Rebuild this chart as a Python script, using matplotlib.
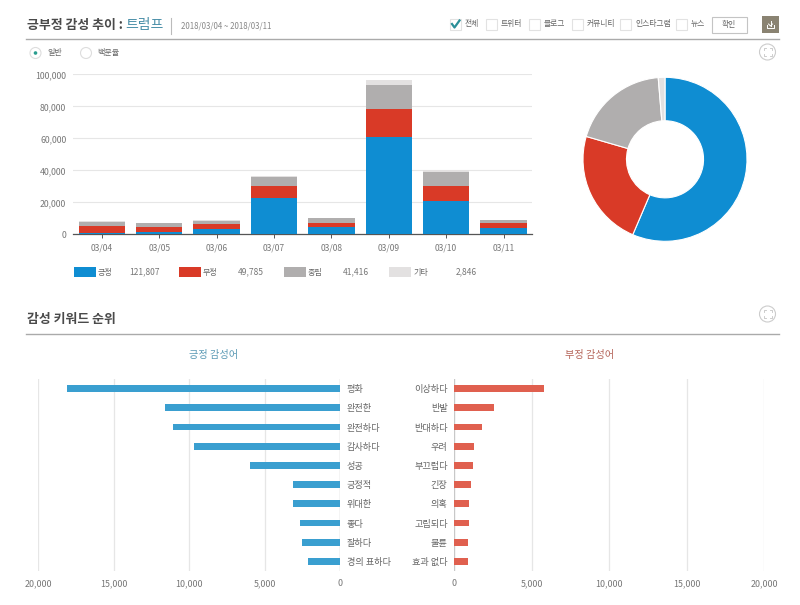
import matplotlib
matplotlib.use('Agg')
import matplotlib.pyplot as plt
from matplotlib.patches import Rectangle, Circle
from matplotlib.ticker import FuncFormatter

plt.rcParams['font.family'] = ['Noto Sans CJK KR', 'DejaVu Sans']

dates = ['03/04', '03/05', '03/06', '03/07', '03/08', '03/09', '03/10', '03/11']
positive = [900, 1500, 3600, 22500, 4800, 61000, 20600, 4200]
negative = [4100, 3100, 2900, 7700, 2500, 17300, 9600, 3100]
neutral = [3000, 2500, 2100, 5900, 2900, 15200, 9000, 1700]
other = [100, 100, 200, 200, 200, 2900, 1000, 300]

sentiment_names = ['긍정', '부정', '중립', '기타']
sentiment_totals = [121807, 49785, 41416, 2846]
colors = ['#0f8dd2', '#d93a27', '#b0aeae', '#e3e1e1']

pos_words = ['평화', '완전한', '완전하다', '감사하다', '성공', '긍정적', '위대한', '좋다', '잘하다', '경의 표하다']
pos_counts = [18080, 11620, 11090, 9670, 5960, 3110, 3110, 2620, 2520, 2090]
neg_words = ['이상하다', '반발', '반대하다', '우려', '부끄럽다', '긴장', '의혹', '고립되다', '불륜', '효과 없다']
neg_counts = [5770, 2540, 1770, 1290, 1210, 1080, 950, 950, 900, 860]

W, H = 800, 605
TXT = '#666666'
NUM = '#777777'
GRID = '#e6e6e6'
comma = FuncFormatter(lambda v, p: f'{int(v):,}')

fig = plt.figure(figsize=(W / 100, H / 100), dpi=100)


def px_axes(x0, y0, x1, y1):
    return fig.add_axes([x0 / W, 1 - y1 / H, (x1 - x0) / W, (y1 - y0) / H])


# page furniture, drawn in pixel coordinates
page = px_axes(0, 0, W, H)
page.set_xlim(0, W)
page.set_ylim(H, 0)
page.axis('off')

page.text(27, 25, '긍부정 감성 추이 :', fontsize=9.3, fontweight='bold', color='#4a4a4a', va='center')
page.text(125.5, 25, '트럼프', fontsize=10, color='#4a8fa8', va='center')
page.plot([171, 171], [18, 34], color='#bbbbbb', lw=0.8)
page.text(181, 25.5, '2018/03/04 ~ 2018/03/11', fontsize=5.7, color='#888888', va='center')
page.plot([26, 779], [38.5, 38.5], color='#aaaaaa', lw=1)
page.plot([26, 779], [333.5, 333.5], color='#aaaaaa', lw=1)
page.text(27, 319.5, '감성 키워드 순위', fontsize=9.3, fontweight='bold', color='#4a4a4a', va='center')
page.text(214, 355, '긍정 감성어', fontsize=7.3, color='#5b9ab5', ha='center', va='center')
page.text(590, 355, '부정 감성어', fontsize=7.3, color='#b5655a', ha='center', va='center')

# radio buttons
page.add_patch(Circle((35.5, 53), 5.5, fc='white', ec='#dddddd', lw=0.8))
page.add_patch(Circle((35.5, 53), 1.8, fc='#2a9d8f', ec='none'))
page.add_patch(Circle((86, 53), 5.5, fc='white', ec='#dddddd', lw=0.8))
page.text(47, 53, '일반', fontsize=5.8, color=TXT, va='center')
page.text(97, 53, '백분율', fontsize=5.8, color=TXT, va='center')

# channel check boxes
channels = ['전체', '트위터', '블로그', '커뮤니티', '인스타그램', '뉴스']
box_x = [450, 486, 529, 572, 620, 676]
for bx, name in zip(box_x, channels):
    page.add_patch(Rectangle((bx, 18.5), 11, 11.5, fc='white', ec='#e2e2e2', lw=0.8))
    page.text(bx + 15, 24, name, fontsize=5.6, color=TXT, va='center')
page.plot([452, 454.5, 459.5], [24, 27.5, 20.5], color='#2a8f98', lw=1.6)
page.add_patch(Rectangle((711.5, 16.5), 35.5, 16, fc='white', ec='#c4c4c4', lw=0.8))
page.text(729, 24.5, '확인', fontsize=5.6, color=TXT, ha='center', va='center')
page.add_patch(Rectangle((762, 16), 17, 17, fc='#8a8372', ec='none'))
page.plot([767, 767, 774, 774], [25, 28, 28, 25], color='white', lw=0.7)
page.plot([770.5, 770.5], [20.5, 26], color='white', lw=0.7)
page.plot([768.5, 770.5, 772.5], [24, 26, 24], color='white', lw=0.7)

# expand icons
for cy in [52, 314]:
    page.add_patch(Circle((767.5, cy), 8, fc='white', ec='#cccccc', lw=0.8))
    for sx in [-1, 1]:
        for sy in [-1, 1]:
            page.plot([767.5 + sx * 4, 767.5 + sx * 4, 767.5 + sx * 2],
                      [cy + sy * 2, cy + sy * 4, cy + sy * 4], color='#c4c4c4', lw=0.6)

# legend under the stacked bars
swatch_x = [74, 179, 284, 389]
value_x = [129, 238, 343, 456]
for sx, vx, name, total, c in zip(swatch_x, value_x, sentiment_names, sentiment_totals, colors):
    page.add_patch(Rectangle((sx, 266.7), 21.7, 10.6, fc=c, ec='none'))
    page.text(sx + 24, 272, name, fontsize=5.8, color=TXT, va='center')
    page.text(vx, 272, f'{total:,}', fontsize=6.1, color=NUM, va='center')

# stacked bars
ax = px_axes(73.2, 74.4, 532.2, 234.4)
bottom = [0] * len(dates)
for vals, c in zip([positive, negative, neutral, other], colors):
    ax.bar(dates, vals, width=0.807, bottom=bottom, color=c, zorder=3)
    bottom = [b + v for b, v in zip(bottom, vals)]
ax.set_xlim(-0.5, 7.5)
ax.set_ylim(0, 100000)
ax.set_yticks(range(0, 100001, 20000))
ax.yaxis.set_major_formatter(comma)
ax.grid(axis='y', color=GRID, lw=0.8, zorder=0)
ax.tick_params(axis='y', length=0, pad=5, labelsize=6.3, labelcolor=NUM)
ax.tick_params(axis='x', length=3, width=0.7, color='#555555', pad=3.5, labelsize=6.1, labelcolor=NUM)
for s in ['top', 'left', 'right']:
    ax.spines[s].set_visible(False)
ax.spines['bottom'].set_color('#555555')
ax.spines['bottom'].set_linewidth(0.9)
ax.patch.set_alpha(0)

# donut
pie_ax = px_axes(665 - 82, 159.3 - 82, 665 + 82, 159.3 + 82)
pie_ax.pie(sentiment_totals, colors=colors, startangle=90, counterclock=False, radius=1,
           wedgeprops=dict(width=0.53, edgecolor='white', linewidth=0.8))
pie_ax.set_xlim(-1, 1)
pie_ax.set_ylim(-1, 1)

# keyword rankings
rows = list(range(len(pos_words)))

axl = px_axes(38.3, 379, 340, 571)
axl.barh(rows, pos_counts, height=0.35, color='#3a9fd0', zorder=3)
axl.set_xlim(20000, 0)
axl.yaxis.tick_right()
axl.set_yticks(rows, pos_words)
axr = px_axes(454.3, 379, 764.3, 571)
axr.barh(rows, neg_counts, height=0.35, color='#e0604f', zorder=3)
axr.set_xlim(0, 20000)
axr.set_yticks(rows, neg_words)

for a in [axl, axr]:
    a.set_ylim(9.5, -0.5)
    a.set_xticks(range(0, 20001, 5000))
    a.xaxis.set_major_formatter(comma)
    a.grid(axis='x', color=GRID, lw=0.9, zorder=0)
    a.tick_params(axis='x', length=0, pad=6, labelsize=6.4, labelcolor=NUM)
    a.tick_params(axis='y', length=0, pad=4.8, labelsize=6.6, labelcolor=TXT)
    for s in a.spines.values():
        s.set_visible(False)
    a.axvline(0, color='#c8c8c8', lw=0.9, zorder=2)
    a.patch.set_alpha(0)

fig.savefig('out.png', dpi=100)
